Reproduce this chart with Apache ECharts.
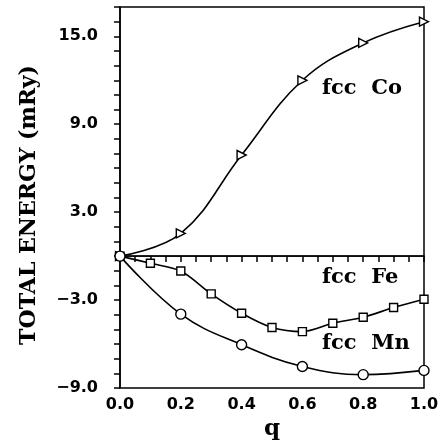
<!DOCTYPE html>
<html><head><meta charset="utf-8">
<script src="https://cdn.jsdelivr.net/npm/echarts@6/dist/echarts.min.js"></script>
<style>html,body{margin:0;padding:0;background:#fff}#c{width:438px;height:442px}</style>
</head><body><div id="c"></div>
<script>
var coQ = [0, 0.2, 0.4, 0.6, 0.8, 1.0];
var coEnergy = [0, 1.55, 6.9, 12.0, 14.55, 16.0];
var feQ = [0, 0.1, 0.2, 0.3, 0.4, 0.5, 0.6, 0.7, 0.8, 0.9, 1.0];
var feEnergy = [0, -0.49, -1.02, -2.58, -3.9, -4.87, -5.15, -4.58, -4.17, -3.51, -2.94];
var mnQ = [0, 0.2, 0.4, 0.6, 0.8, 1.0];
var mnEnergy = [0, -3.96, -6.05, -7.53, -8.09, -7.8];
var yTickLabels = [-9, -3, 3, 9, 15];
var xTickLabels = [0, 0.2, 0.4, 0.6, 0.8, 1.0];
var labels = ['fcc  Co', 'fcc  Fe', 'fcc  Mn'];
var yTitle = 'TOTAL ENERGY (mRy)';
var xTitle = 'q';

function pairs(xs, ys){ return xs.map(function(x,i){return [x, ys[i]];}); }

var chart = echarts.init(document.getElementById('c'), null, {renderer:'canvas'});
var tickFont = {fontFamily:'DejaVu Sans', fontWeight:'bold', fontSize:16, color:'#000'};
var serif = '"DejaVu Serif", serif';
chart.setOption({
  animation:false,
  backgroundColor:'#fff',
  grid:{left:120, right:14, top:7, bottom:54, show:true, borderColor:'#000', borderWidth:1.5, containLabel:false, outerBoundsMode:'none'},
  xAxis:{type:'value', min:0, max:1, interval:0.05,
    name:xTitle, nameLocation:'middle', nameGap:30,
    nameTextStyle:{fontFamily:serif, fontWeight:'bold', fontSize:23, color:'#000'},
    axisLine:{lineStyle:{color:'#000', width:1.5}},
    axisTick:{inside:false, length:6, lineStyle:{color:'#000', width:1.5}},
    splitLine:{show:false},
    axisLabel:Object.assign({margin:9, formatter:function(v){
      var k=Math.round(v*100); for(var i=0;i<xTickLabels.length;i++){ if(Math.round(xTickLabels[i]*100)===k) return xTickLabels[i].toFixed(1);} return '';
    }}, tickFont)
  },
  yAxis:{type:'value', min:-9, max:17, interval:1,
    axisLine:{lineStyle:{color:'#000', width:1.5}},
    axisTick:{inside:false, length:6, lineStyle:{color:'#000', width:1.5}},
    splitLine:{show:false},
    axisLabel:Object.assign({margin:22, formatter:function(v){
      for(var i=0;i<yTickLabels.length;i++){ if(Math.abs(yTickLabels[i]-v)<1e-6) return (v<0?'\u2212':'')+Math.abs(v).toFixed(1);} return '';
    }}, tickFont)
  },
  series:[
    {type:'line', data:[[0,0],[1,0]], symbol:'none', lineStyle:{color:'#000', width:1.2}, silent:true},
    {type:'line', data:pairs(coQ, coEnergy), smooth:0.4, symbol:'triangle', symbolRotate:-90, symbolSize:9,
      showAllSymbol:true, lineStyle:{color:'#000', width:1.6}, itemStyle:{color:'#fff', borderColor:'#000', borderWidth:1.4}},
    {type:'line', data:pairs(feQ, feEnergy), smooth:0.3, symbol:'rect', symbolSize:8,
      lineStyle:{color:'#000', width:1.6}, itemStyle:{color:'#fff', borderColor:'#000', borderWidth:1.4}},
    {type:'line', data:pairs(mnQ, mnEnergy), smooth:0.4, symbol:'circle', symbolSize:10,
      lineStyle:{color:'#000', width:1.6}, itemStyle:{color:'#fff', borderColor:'#000', borderWidth:1.4}}
  ],
  graphic:[
    {type:'text', x:29, y:205, rotation:Math.PI/2, style:{text:yTitle, font:'bold 22px "DejaVu Serif"', fill:'#000', textAlign:'center', textVerticalAlign:'middle'}},
    {type:'text', left:322, top:78, style:{text:labels[0], font:'bold 21px "DejaVu Serif"', fill:'#000'}},
    {type:'text', left:322, top:267, style:{text:labels[1], font:'bold 21px "DejaVu Serif"', fill:'#000'}},
    {type:'text', left:322, top:333, style:{text:labels[2], font:'bold 21px "DejaVu Serif"', fill:'#000'}}
  ]
});
</script></body></html>
